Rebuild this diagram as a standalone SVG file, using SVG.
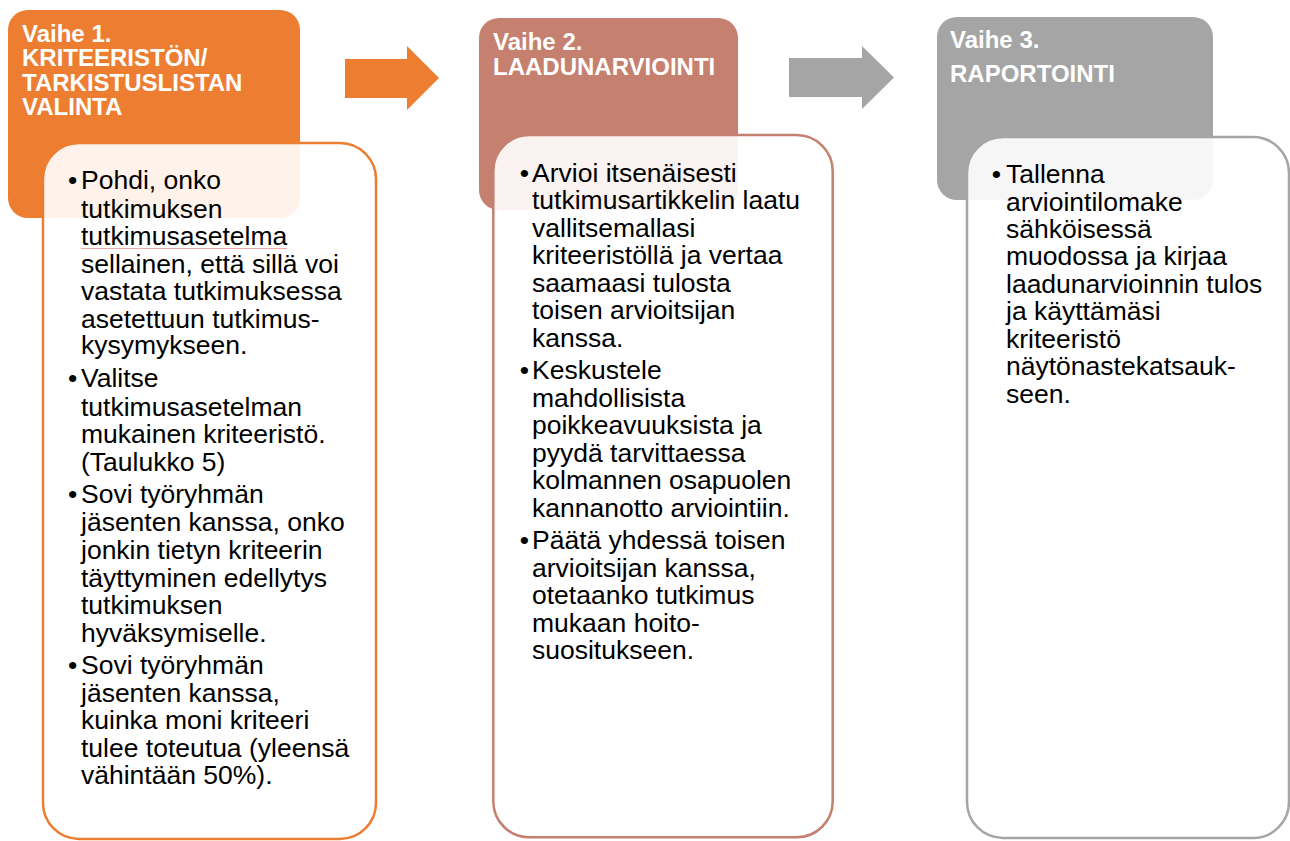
<svg xmlns="http://www.w3.org/2000/svg" width="1290" height="841" viewBox="0 0 1290 841">
  <style>
    .hdr { font-family: "Liberation Sans", Arial, sans-serif; font-weight: bold; font-size: 24px; fill: #FFFFFF; }
    .body { font-family: "Liberation Sans", Arial, sans-serif; font-size: 26.5px; fill: #000000; }
    .card { fill: #FFFFFF; fill-opacity: 0.9; stroke-width: 2.5; }
  </style>
  <rect width="1290" height="841" fill="#FFFFFF"/>

  <g id="connectors">
    <polygon points="345,59 407,59 407,46 439,78 407,110 407,98 345,98" fill="#ED7D31"/>
    <polygon points="789,58 862,58 862,46 894,77.5 862,109 862,97 789,97" fill="#A5A5A5"/>
  </g>

  <g id="step1">
    <rect x="8" y="10" width="292" height="208" rx="20" ry="20" fill="#ED7D31"/>
    <text class="hdr">
      <tspan x="22" y="41.7">Vaihe 1.</tspan>
      <tspan x="22" y="65.7">KRITEERISTÖN/</tspan>
      <tspan x="22" y="90.7">TARKISTUSLISTAN</tspan>
      <tspan x="22" y="115">VALINTA</tspan>
    </text>
    <rect class="card" x="43" y="143" width="333" height="696" rx="36" ry="36" stroke="#ED7D31"/>
    <line x1="81" y1="248.5" x2="287" y2="248.5" stroke="#E57373" stroke-opacity="0.6" stroke-width="1"/>
    <text class="body" x="68.1" y="189.3">•</text>
    <text class="body" x="68.1" y="387.3">•</text>
    <text class="body" x="68.1" y="503.3">•</text>
    <text class="body" x="68.1" y="674.3">•</text>
    <text class="body">
      <tspan x="81" y="189.3">Pohdi, onko</tspan>
      <tspan x="81" y="217.7">tutkimuksen</tspan>
      <tspan x="81" y="245">tutkimusasetelma</tspan>
      <tspan x="81" y="272.7">sellainen, että sillä voi</tspan>
      <tspan x="81" y="300">vastata tutkimuksessa</tspan>
      <tspan x="81" y="327.7">asetettuun tutkimus-</tspan>
      <tspan x="81" y="354.3">kysymykseen.</tspan>
      <tspan x="81" y="387.3">Valitse</tspan>
      <tspan x="81" y="415.7">tutkimusasetelman</tspan>
      <tspan x="81" y="443.3">mukainen kriteeristö.</tspan>
      <tspan x="81" y="470.5">(Taulukko 5)</tspan>
      <tspan x="81" y="503.3">Sovi työryhmän</tspan>
      <tspan x="81" y="531">jäsenten kanssa, onko</tspan>
      <tspan x="81" y="559.3">jonkin tietyn kriteerin</tspan>
      <tspan x="81" y="586.7">täyttyminen edellytys</tspan>
      <tspan x="81" y="614">tutkimuksen</tspan>
      <tspan x="81" y="641.7">hyväksymiselle.</tspan>
      <tspan x="81" y="674.3">Sovi työryhmän</tspan>
      <tspan x="81" y="701.7">jäsenten kanssa,</tspan>
      <tspan x="81" y="729.3">kuinka moni kriteeri</tspan>
      <tspan x="81" y="756.7">tulee toteutua (yleensä</tspan>
      <tspan x="81" y="784">vähintään 50%).</tspan>
    </text>
  </g>

  <g id="step2">
    <rect x="479" y="18" width="259" height="192" rx="20" ry="20" fill="#C5806F"/>
    <text class="hdr">
      <tspan x="493" y="50">Vaihe 2.</tspan>
      <tspan x="493" y="75">LAADUNARVIOINTI</tspan>
    </text>
    <rect class="card" x="493.3" y="135" width="339.4" height="702.3" rx="36" ry="36" stroke="#C5806F"/>
    <text class="body" x="519.7" y="181.7">•</text>
    <text class="body" x="519.7" y="379.3">•</text>
    <text class="body" x="519.7" y="549.3">•</text>
    <text class="body">
      <tspan x="532" y="181.7">Arvioi itsenäisesti</tspan>
      <tspan x="532" y="209">tutkimusartikkelin laatu</tspan>
      <tspan x="532" y="236.7">vallitsemallasi</tspan>
      <tspan x="532" y="264.3">kriteeristöllä ja vertaa</tspan>
      <tspan x="532" y="291.7">saamaasi tulosta</tspan>
      <tspan x="532" y="319.3">toisen arvioitsijan</tspan>
      <tspan x="532" y="346.7">kanssa.</tspan>
      <tspan x="532" y="379.3">Keskustele</tspan>
      <tspan x="532" y="406.7">mahdollisista</tspan>
      <tspan x="532" y="434.3">poikkeavuuksista ja</tspan>
      <tspan x="532" y="461.7">pyydä tarvittaessa</tspan>
      <tspan x="532" y="489.3">kolmannen osapuolen</tspan>
      <tspan x="532" y="516.7">kannanotto arviointiin.</tspan>
      <tspan x="532" y="549.3">Päätä yhdessä toisen</tspan>
      <tspan x="532" y="576.7">arvioitsijan kanssa,</tspan>
      <tspan x="532" y="604.3">otetaanko tutkimus</tspan>
      <tspan x="532" y="631.7">mukaan hoito-</tspan>
      <tspan x="532" y="659.3">suositukseen.</tspan>
    </text>
  </g>

  <g id="step3">
    <rect x="937" y="17" width="276" height="183" rx="20" ry="20" fill="#A5A5A5"/>
    <text class="hdr">
      <tspan x="950" y="48.3">Vaihe 3.</tspan>
      <tspan x="950" y="81.7">RAPORTOINTI</tspan>
    </text>
    <rect class="card" x="967" y="137" width="322" height="701" rx="36" ry="36" stroke="#A5A5A5"/>
    <text class="body" x="991.7" y="182.7">•</text>
    <text class="body">
      <tspan x="1006" y="182.7">Tallenna</tspan>
      <tspan x="1006" y="210.7">arviointilomake</tspan>
      <tspan x="1006" y="237.7">sähköisessä</tspan>
      <tspan x="1006" y="265">muodossa ja kirjaa</tspan>
      <tspan x="1006" y="292.7">laadunarvioinnin tulos</tspan>
      <tspan x="1006" y="320">ja käyttämäsi</tspan>
      <tspan x="1006" y="347.7">kriteeristö</tspan>
      <tspan x="1006" y="375">näytönastekatsauk-</tspan>
      <tspan x="1006" y="402.7">seen.</tspan>
    </text>
  </g>
</svg>
